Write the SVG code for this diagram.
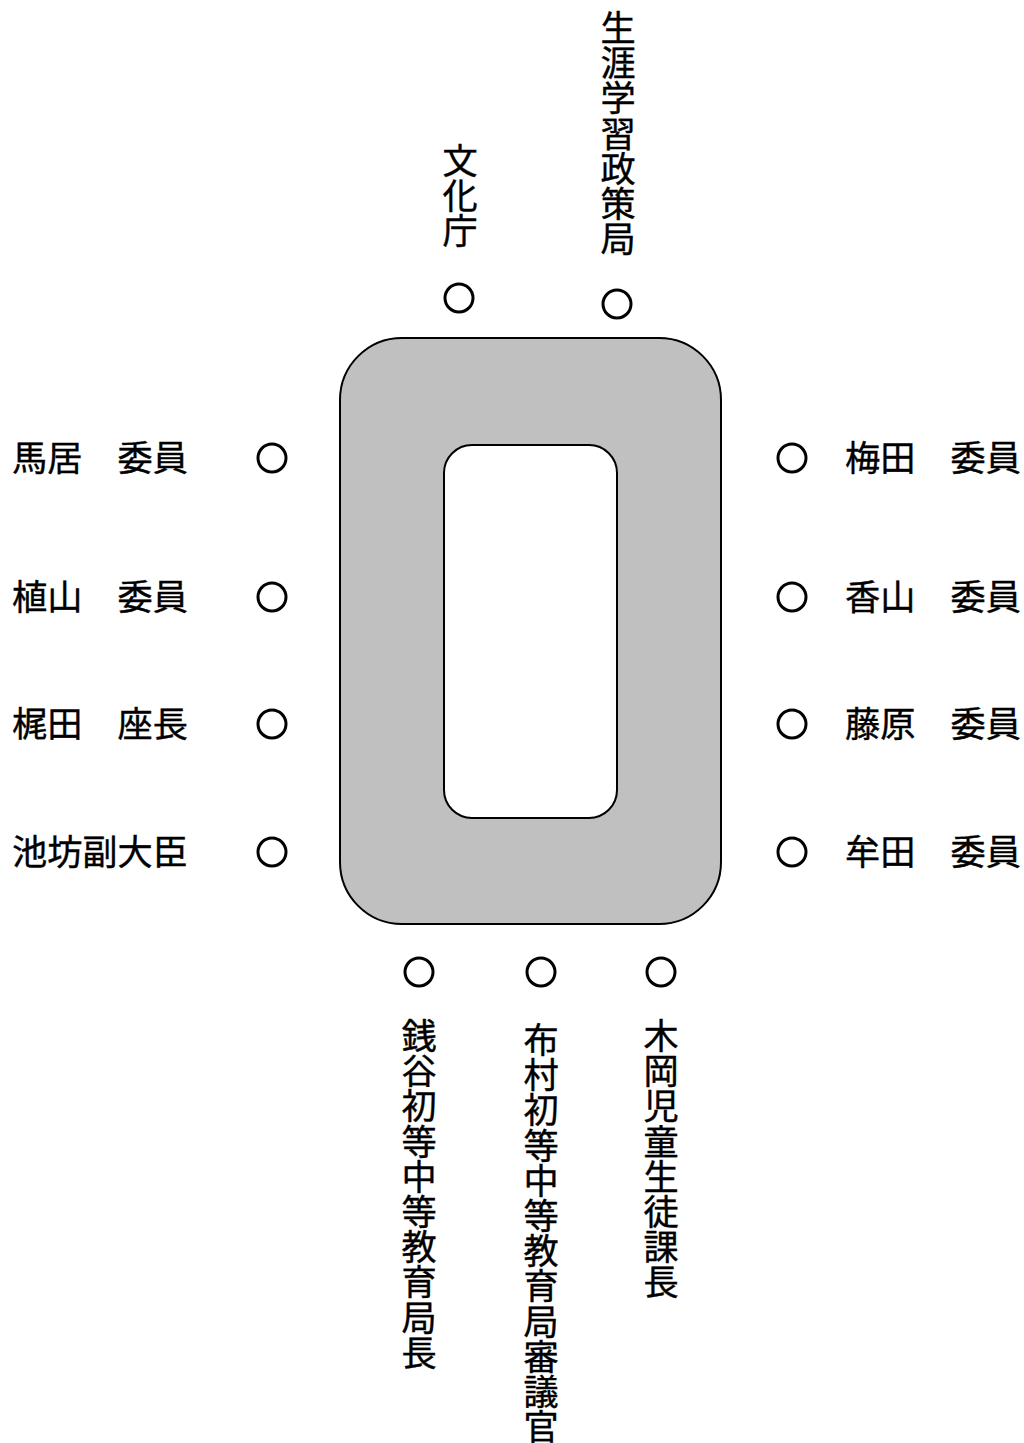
<svg xmlns="http://www.w3.org/2000/svg" width="1024" height="1443" viewBox="0 0 1024 1443">
<style>
.seat{fill:none;stroke:#000;stroke-width:3}
.t{font-family:"Noto Sans CJK JP","Noto Sans CJK SC",sans-serif;font-size:35.2px;fill:#000;stroke:#000;stroke-width:0.4}
.v{writing-mode:vertical-rl;text-anchor:start}
</style>
<rect width="1024" height="1443" fill="#fff"/>
<g id="table">
<rect x="340" y="338" width="381" height="586" rx="62" ry="62" fill="#c0c0c0" stroke="#000" stroke-width="2"/>
<rect x="444" y="445" width="173" height="373" rx="28" ry="28" fill="#fff" stroke="#000" stroke-width="2"/>
</g>
<g id="top-bunkacho"><circle class="seat" cx="459" cy="298" r="14"/><text class="t v" x="460" y="143">文化庁</text></g>
<g id="top-shogai"><circle class="seat" cx="617" cy="304" r="14"/><text class="t v" x="618" y="10">生涯学習政策局</text></g>
<g id="left-umai"><circle class="seat" cx="272" cy="458" r="14"/><text class="t" x="12" y="471">馬居　委員</text></g>
<g id="left-ueyama"><circle class="seat" cx="272" cy="597" r="14"/><text class="t" x="12" y="610">植山　委員</text></g>
<g id="left-kajita"><circle class="seat" cx="272" cy="724" r="14"/><text class="t" x="12" y="737">梶田　座長</text></g>
<g id="left-ikenobo"><circle class="seat" cx="272" cy="852" r="14"/><text class="t" x="12" y="865">池坊副大臣</text></g>
<g id="right-umeda"><circle class="seat" cx="792" cy="458" r="14"/><text class="t" x="845" y="471">梅田　委員</text></g>
<g id="right-kayama"><circle class="seat" cx="792" cy="597" r="14"/><text class="t" x="845" y="610">香山　委員</text></g>
<g id="right-fujiwara"><circle class="seat" cx="792" cy="724" r="14"/><text class="t" x="845" y="737">藤原　委員</text></g>
<g id="right-muta"><circle class="seat" cx="792" cy="852" r="14"/><text class="t" x="845" y="865">牟田　委員</text></g>
<g id="bottom-zeniya"><circle class="seat" cx="419" cy="972" r="14"/><text class="t v" x="419" y="1018">銭谷初等中等教育局長</text></g>
<g id="bottom-nunomura"><circle class="seat" cx="541" cy="972" r="14"/><text class="t v" x="541" y="1022">布村初等中等教育局審議官</text></g>
<g id="bottom-kioka"><circle class="seat" cx="661" cy="972" r="14"/><text class="t v" x="661" y="1018">木岡児童生徒課長</text></g>
<g id="connectors"></g>
</svg>
